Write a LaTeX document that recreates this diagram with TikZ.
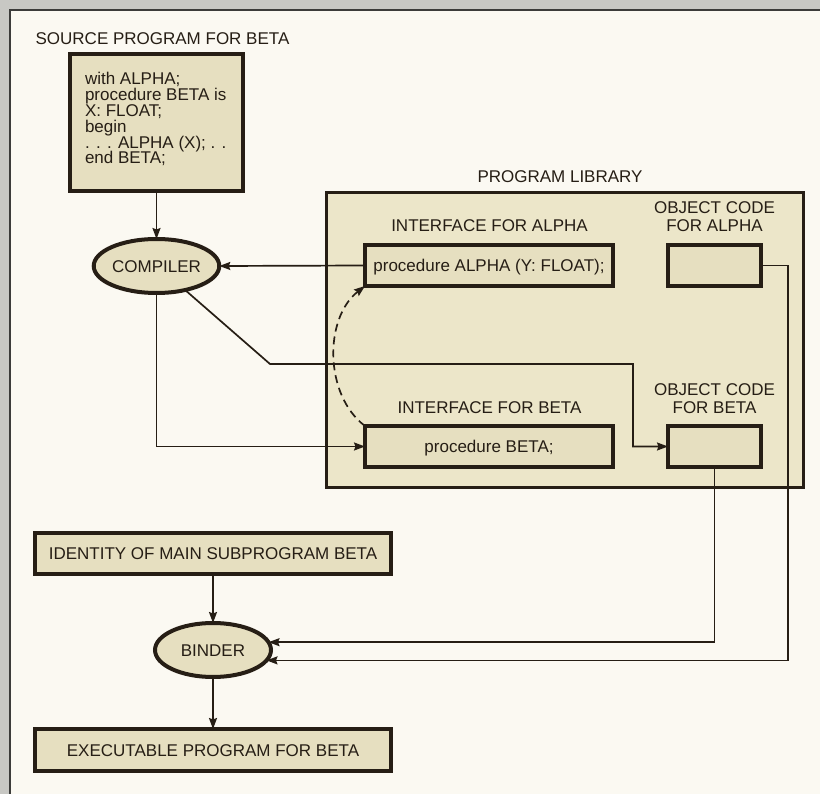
\documentclass[tikz,border=0pt]{standalone}
\usepackage{fontspec}
\setmainfont{Liberation Sans}
\usetikzlibrary{arrows.meta,shapes.geometric,calc}
\definecolor{ink}{HTML}{261E15}
\definecolor{boxfill}{HTML}{E6DFC0}
\definecolor{libfill}{HTML}{ECE6C9}
\definecolor{paper}{HTML}{FBF9F2}
\definecolor{marginc}{HTML}{C8C8C4}
\definecolor{framec}{HTML}{3C3C3A}
\newcommand\dgfont{\fontsize{17}{15.8}\selectfont\lineskiplimit=-6pt\relax}
\begin{document}
\begin{tikzpicture}[x=1pt,y=-1pt,
  every node/.style={font=\dgfont, text=ink, inner sep=0pt, outer sep=0pt},
  thickbox/.style={draw=ink, line width=4pt, fill=boxfill, text height=12.2pt, text depth=0pt},
  libbox/.style={draw=ink, line width=3pt, fill=libfill},
  oval/.style={ellipse, draw=ink, line width=4pt, fill=boxfill, text height=12.2pt, text depth=0pt},
  lbl/.style={anchor=base},
  conn/.style={draw=ink, line width=1.7pt, -{Stealth[length=11pt,width=8pt,inset=1.5pt]}},
]
\useasboundingbox (0,0) rectangle (820,794);
\fill[marginc] (0,0) rectangle (820,794);
\fill[paper] (10,10) rectangle (820,794);
\draw[framec, line width=2pt] (10,794) -- (10,10) -- (820,10);

% source program
\node[lbl] (srctitle) at (162.5,45) {SOURCE PROGRAM FOR BETA};
\node[thickbox, minimum width=173pt, minimum height=137pt] (src) at (156.5,122.5) {};
\node[anchor=north west, align=left] (srctext) at (85,72.6)
  {with ALPHA;\\procedure BETA is\\X: FLOAT;\\begin\\. . . ALPHA (X); . .\\end BETA;};

% compiler
\node[oval, minimum width=116pt, minimum height=54pt] (comp) at (156.5,266) {COMPILER};

% program library
\node[libbox, minimum width=477pt, minimum height=295pt] (lib) at (565,340) {};
\node[lbl] (libtitle) at (560,183) {PROGRAM LIBRARY};

\node[lbl] (ialbl) at (489.5,232) {INTERFACE FOR ALPHA};
\node[thickbox, minimum width=248pt, minimum height=41pt] (ia) at (489,265.5) {procedure ALPHA (Y: FLOAT);};
\node[lbl] (oalbl1) at (714.5,214) {OBJECT CODE};
\node[lbl] (oalbl2) at (714.5,232) {FOR ALPHA};
\node[thickbox, minimum width=93pt, minimum height=41pt] (oa) at (714.5,265.5) {};

\node[lbl] (iblbl) at (489.5,414) {INTERFACE FOR BETA};
\node[thickbox, minimum width=248pt, minimum height=41pt] (ib) at (489,446.5) {procedure BETA;};
\node[lbl] (oblbl1) at (714.5,396) {OBJECT CODE};
\node[lbl] (oblbl2) at (714.5,414) {FOR BETA};
\node[thickbox, minimum width=93pt, minimum height=41pt] (ob) at (714.5,446.5) {};

% binder section
\node[thickbox, minimum width=356pt, minimum height=41pt] (ident) at (213,553.5) {IDENTITY OF MAIN SUBPROGRAM BETA};
\node[oval, minimum width=116pt, minimum height=54pt] (binder) at (213,650) {BINDER};
\node[thickbox, minimum width=356pt, minimum height=42pt] (exec) at (213,750) {EXECUTABLE PROGRAM FOR BETA};

% connectors
\coordinate (k1) at (270,364);
\coordinate (k2) at (633,364);
\coordinate (r1) at (788,0);

\draw[conn] (src.south) -- (comp.north);
\draw[conn] (ia.west) -- (comp.east);
\draw[conn] (comp.-40) -- (k1) -- (k2) |- (ob.west);
\draw[conn] (comp.south) |- (ib.west);
\draw[conn, dash pattern=on 8pt off 5pt] (ib.north west) .. controls (324,395) and (324,318) .. (ia.south west);
\draw[conn] (ob.south) |- (binder.8);
\draw[conn] (oa.east) -| (r1 |- binder.-11) -- (binder.-11);
\draw[conn] (ident.south) -- (binder.north);
\draw[conn] (binder.south) -- (exec.north);
\end{tikzpicture}
\end{document}
